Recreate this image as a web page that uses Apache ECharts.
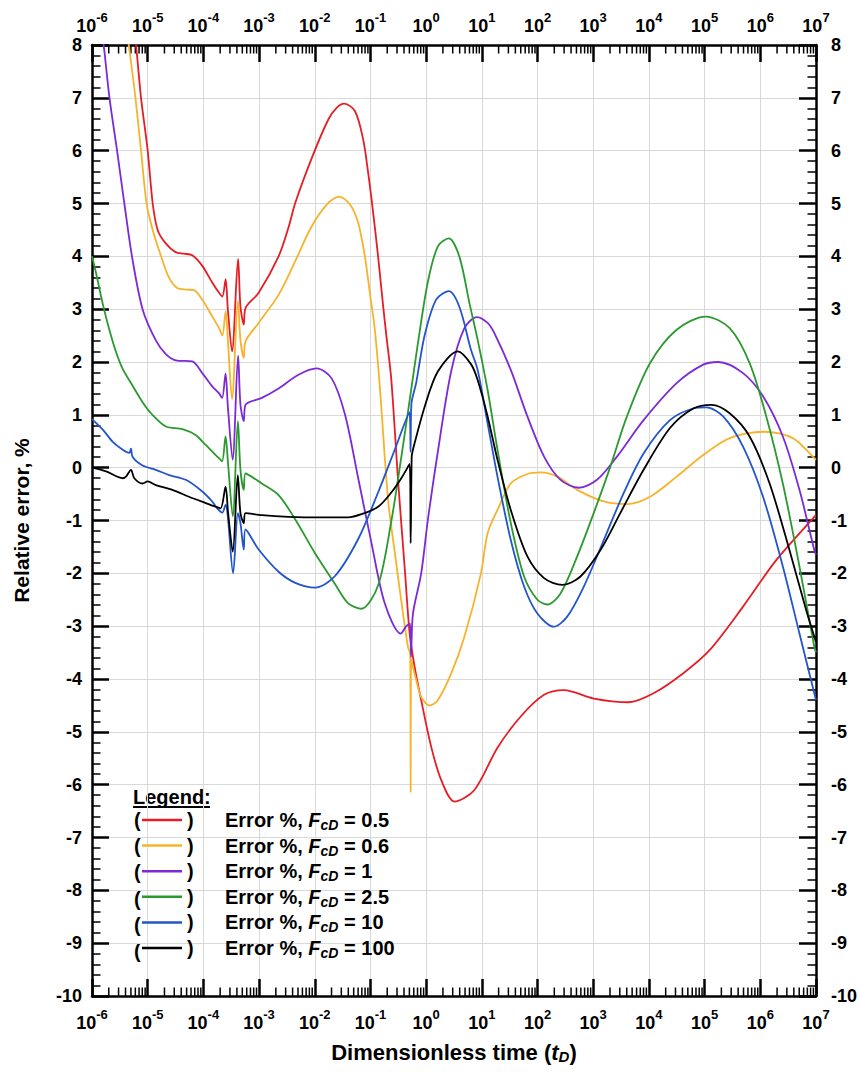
<!DOCTYPE html>
<html>
<head>
<meta charset="utf-8">
<script src="https://cdn.jsdelivr.net/npm/echarts@6/dist/echarts.min.js"></script>
<style>
  html, body { margin: 0; padding: 0; background: #fff; }
  #chart { width: 860px; height: 1072px; }
</style>
</head>
<body>
<div id="chart"></div>
<script>
// Relative error of the approximation vs dimensionless time, for several FcD values.
const FONT = "'Liberation Sans', Arial, Helvetica, sans-serif";

const fcdLabels = ['0.5', '0.6', '1', '2.5', '10', '100'];
const lineColors = ['#e41e26', '#f7b32b', '#7b2ad6', '#2a9a2f', '#2255cc', '#000000'];

// x: tD, y: error in %
const errFcd05 = [
  [4.47e-6, 9.2], [6.17e-6, 8.0], [7.59e-6, 7.0], [1.0e-5, 6.0], [1.23e-5, 5.0], [1.51e-5, 4.5],
  [2.09e-5, 4.25], [3.16e-5, 4.08], [4.47e-5, 4.05], [6.31e-5, 4.02], [9.55e-5, 3.82], [1.45e-4, 3.5],
  [1.91e-4, 3.31], [2.19e-4, 3.24], [2.51e-4, 3.57], [2.75e-4, 2.99], [3.27e-4, 2.2], [4.2e-4, 3.95],
  [4.63e-4, 3.05], [5.31e-4, 2.71], [5.7e-4, 3.02], [9.84e-4, 3.31], [2.24e-3, 4.0], [3.38e-3, 4.55],
  [4.46e-3, 5.01], [8.83e-3, 5.86], [1.75e-2, 6.59], [2.47e-2, 6.81], [3.39e-2, 6.89], [5.26e-2, 6.75],
  [7.41e-2, 6.21], [9.1e-2, 5.58], [0.112, 4.82], [0.137, 4.0], [0.169, 3.06], [0.193, 2.5],
  [0.237, 1.66], [0.313, -0.24], [0.411, -1.88], [0.506, -3.14], [0.621, -3.77], [0.815, -4.40],
  [1.23, -5.28], [1.86, -5.91], [3.22, -6.32], [7.35, -6.10], [19.1, -5.3], [49.9, -4.71],
  [131, -4.30], [298, -4.21], [1020, -4.37], [4320, -4.44], [1.21e4, -4.27], [4.15e4, -3.89],
  [1.24e5, -3.45], [4.9e5, -2.63], [1.93e6, -1.75], [9.33e6, -0.93], [1e7, -0.9]
];
const errFcd06 = [
  [3.16e-6, 9.2], [4.57e-6, 8.0], [6.03e-6, 7.0], [7.59e-6, 6.0], [9.55e-6, 5.0], [1.23e-5, 4.5],
  [1.74e-5, 4.0], [2.4e-5, 3.6], [3.39e-5, 3.4], [5.01e-5, 3.37], [6.76e-5, 3.36], [9.55e-5, 3.18],
  [1.45e-4, 2.86], [1.91e-4, 2.64], [2.19e-4, 2.5], [2.51e-4, 2.96], [2.75e-4, 2.42], [3.27e-4, 1.3],
  [4.17e-4, 3.15], [4.63e-4, 2.42], [5.31e-4, 2.08], [5.7e-4, 2.39], [9.84e-4, 2.74], [2.24e-3, 3.27],
  [4.46e-3, 3.91], [8.83e-3, 4.57], [1.75e-2, 5.01], [2.76e-2, 5.13], [4.29e-2, 4.98], [6.03e-2, 4.63],
  [7.94e-2, 4.0], [9.75e-2, 3.31], [0.12, 2.61], [0.148, 1.5], [0.207, -0.6], [0.273, -1.6],
  [0.384, -2.76], [0.472, -3.39], [0.519, -3.55], [0.527, -6.14], [0.535, -3.62], [0.664, -4.02],
  [0.815, -4.34], [1.15, -4.50], [1.62, -4.40], [2.81, -3.90], [4.86, -3.20], [9.64, -2.0],
  [12.7, -1.24], [19.1, -0.8], [33.1, -0.30], [65.8, -0.12], [114, -0.09], [226, -0.17],
  [515, -0.42], [1550, -0.64], [4030, -0.69], [1.05e4, -0.55], [3.15e4, -0.17], [9.44e4, 0.24],
  [2.82e5, 0.56], [1.19e6, 0.68], [3.84e6, 0.56], [9.33e6, 0.18], [1e7, 0.15]
];
const errFcd1 = [
  [1e-6, 9.7], [1.62e-6, 8.0], [2.06e-6, 7.0], [2.82e-6, 6.0], [3.81e-6, 5.0], [5.22e-6, 4.0],
  [8.09e-6, 3.0], [1.4e-5, 2.41], [2.12e-5, 2.15], [3.2e-5, 2.03], [6.32e-5, 2.01], [9.55e-5, 1.79],
  [1.44e-4, 1.54], [1.9e-4, 1.41], [2.17e-4, 1.32], [2.5e-4, 1.78], [2.75e-4, 1.16], [3.35e-4, 0.15],
  [4.2e-4, 2.12], [4.63e-4, 1.19], [5.31e-4, 0.88], [5.7e-4, 1.19], [1.12e-3, 1.32], [2.24e-3, 1.5],
  [5.1e-3, 1.76], [1.08e-2, 1.88], [2.01e-2, 1.69], [3.48e-2, 1.01], [6.03e-2, -0.2], [0.104, -1.42],
  [0.181, -2.57], [0.349, -3.14], [0.44, -3.0], [0.513, -2.95], [0.535, -3.58], [0.579, -2.77],
  [0.815, -2.0], [1.07, -1.0], [1.62, 0.3], [2.81, 1.82], [4.86, 2.64], [8.17, 2.85],
  [12.7, 2.74], [16.7, 2.55], [33.1, 1.85], [65.8, 0.97], [131, 0.21], [259, -0.23],
  [552, -0.38], [1170, -0.23], [2670, 0.21], [8020, 0.90], [3.15e4, 1.6], [9.44e4, 1.95],
  [1.75e5, 2.0], [4.9e5, 1.79], [1.12e6, 1.35], [2.54e6, 0.59], [5.05e6, -0.42], [9.33e6, -1.56],
  [1e7, -1.65]
];
const errFcd25 = [
  [1e-6, 4.0], [1.19e-6, 3.67], [1.56e-6, 3.1], [2.06e-6, 2.6], [2.7e-6, 2.19], [3.56e-6, 1.87],
  [5.36e-6, 1.55], [8.09e-6, 1.24], [1.15e-5, 1.03], [2.12e-5, 0.78], [4.2e-5, 0.73], [7.24e-5, 0.62],
  [1.1e-4, 0.43], [1.55e-4, 0.27], [1.9e-4, 0.18], [2.17e-4, 0.12], [2.5e-4, 0.59], [2.78e-4, 0.06],
  [3.37e-4, -0.92], [4.17e-4, 0.88], [4.63e-4, -0.04], [5.31e-4, -0.42], [5.7e-4, -0.11], [1.12e-3, -0.3],
  [2.24e-3, -0.52], [4.47e-3, -0.98], [1.01e-2, -1.62], [2.31e-2, -2.2], [3.99e-2, -2.57], [6.9e-2, -2.67],
  [0.137, -2.23], [0.237, -1.01], [0.358, 0.2], [0.506, 1.28], [0.713, 2.36], [1.07, 3.51],
  [1.62, 4.19], [2.55, 4.34], [3.96, 3.99], [6.03, 3.1], [8.41, 2.42], [12.7, 1.47],
  [19.1, 0.34], [33.1, -1.05], [57.4, -2.06], [99.3, -2.5], [150, -2.59], [259, -2.38],
  [515, -1.68], [1020, -0.86], [2030, 0.02], [4030, 0.97], [1.05e4, 1.98], [3.15e4, 2.61],
  [1.05e5, 2.86], [2.82e5, 2.64], [6.43e5, 1.98], [1.28e6, 0.97], [2.54e6, -0.3], [5.05e6, -1.87],
  [9.33e6, -3.39], [1e7, -3.5]
];
const errFcd10 = [
  [1e-6, 0.92], [1.56e-6, 0.72], [2.36e-6, 0.49], [3.56e-6, 0.34], [4.68e-6, 0.28], [5.01e-6, 0.36],
  [5.37e-6, 0.2], [8.09e-6, 0.04], [1.4e-5, -0.04], [2.43e-5, -0.14], [4.82e-5, -0.23], [9.55e-5, -0.45],
  [1.44e-4, -0.64], [1.77e-4, -0.77], [2.19e-4, -0.85], [2.51e-4, -0.7], [2.75e-4, -0.93], [3.42e-4, -2.0],
  [4.17e-4, -0.86], [4.63e-4, -1.05], [5.31e-4, -1.55], [5.7e-4, -1.17], [9.84e-4, -1.55], [2.24e-3, -1.97],
  [4.47e-3, -2.18], [1.01e-2, -2.27], [2.31e-2, -2.05], [6.03e-2, -1.35], [0.137, -0.47], [0.273, 0.34],
  [0.501, 1.05], [0.525, 0.3], [0.543, 1.2], [0.661, 1.6], [0.938, 2.5], [1.51, 3.18],
  [2.55, 3.34], [3.96, 3.04], [6.38, 2.23], [8.41, 1.85], [12.7, 0.84], [19.1, -0.17],
  [33.1, -1.37], [57.4, -2.25], [99.3, -2.76], [197, -3.01], [341, -2.82], [678, -2.25],
  [1550, -1.37], [3520, -0.48], [8020, 0.27], [2.39e4, 0.9], [6.25e4, 1.12], [1.08e5, 1.14],
  [2.15e5, 0.97], [4.9e5, 0.4], [1.12e6, -0.55], [2.54e6, -1.87], [5.05e6, -3.14], [9.33e6, -4.27],
  [1e7, -4.4]
];
const errFcd100 = [
  [1e-6, 0.0], [1.79e-6, -0.07], [3.56e-6, -0.2], [4.07e-6, -0.17], [5.01e-6, -0.04], [5.75e-6, -0.2],
  [8.09e-6, -0.3], [1e-5, -0.26], [1.4e-5, -0.33], [2.78e-5, -0.42], [5.52e-5, -0.55], [1.1e-4, -0.67],
  [1.66e-4, -0.74], [2.04e-4, -0.77], [2.5e-4, -0.36], [2.78e-4, -0.86], [3.37e-4, -1.59], [4.15e-4, -0.14],
  [4.63e-4, -0.86], [5.31e-4, -1.05], [5.7e-4, -0.86], [1.13e-3, -0.9], [3.38e-3, -0.93], [1.33e-2, -0.94],
  [3.99e-2, -0.94], [6.9e-2, -0.88], [0.137, -0.74], [0.237, -0.47], [0.358, -0.2], [0.506, 0.07],
  [0.527, -1.43], [0.55, 0.2], [0.579, 0.34], [0.938, 1.15], [1.62, 1.82], [3.69, 2.2],
  [6.38, 1.96], [8.41, 1.66], [12.7, 0.97], [19.1, 0.15], [33.1, -0.8], [65.8, -1.68],
  [131, -2.09], [278, -2.22], [590, -2.06], [1350, -1.56], [3060, -0.86], [8020, -0.04],
  [2.39e4, 0.75], [6.25e4, 1.12], [1.33e5, 1.19], [2.82e5, 1.03], [6.43e5, 0.59], [1.47e6, -0.3],
  [3.34e6, -1.56], [6.64e6, -2.69], [9.33e6, -3.2], [1e7, -3.3]
];
const errorSeries = [errFcd05, errFcd06, errFcd1, errFcd25, errFcd10, errFcd100];

// axis ranges
const X_MIN = 1e-6, X_MAX = 1e7;
const Y_MIN = -10, Y_MAX = 8;
const decadeExponents = [-6, -5, -4, -3, -2, -1, 0, 1, 2, 3, 4, 5, 6, 7];

// minor ticks of the log axis: 2..9 times each decade
const minorTickTimes = [];
for (let i = 0; i < decadeExponents.length - 1; i++) {
  for (let k = 2; k <= 9; k++) minorTickTimes.push(k * Math.pow(10, decadeExponents[i]));
}

const chart = echarts.init(document.getElementById('chart'), null, { renderer: 'svg' });

const powerLabel = v => '{b|10}{sup|' + Math.round(Math.log10(v)) + '}';
const powerRich = {
  b: { fontFamily: FONT, fontSize: 18, fontWeight: 'bold', color: '#000', lineHeight: 30 },
  sup: { fontFamily: FONT, fontSize: 13, fontWeight: 'bold', color: '#000', lineHeight: 12, verticalAlign: 'top' }
};

function xAxisDef(position, extra) {
  return Object.assign({
    type: 'log', logBase: 10, min: X_MIN, max: X_MAX, interval: 1, position: position,
    axisLine: { show: true, onZero: false, lineStyle: { color: '#000', width: 2.5 } },
    axisTick: { show: true, inside: true, length: 17, lineStyle: { color: '#000', width: 2.5 } },
    axisLabel: { show: true, interval: 0, formatter: powerLabel, rich: powerRich },
    splitLine: { show: false }
  }, extra);
}
function yAxisDef(position, extra) {
  return Object.assign({
    type: 'value', min: Y_MIN, max: Y_MAX, interval: 1, position: position,
    axisLine: { show: true, onZero: false, lineStyle: { color: '#000', width: 2.5 } },
    axisTick: { show: true, inside: true, length: 17, lineStyle: { color: '#000', width: 2.5 } },
    minorTick: { show: true, splitNumber: 5, length: 8.5, lineStyle: { color: '#000', width: 1.5 } },
    axisLabel: { fontFamily: FONT, fontSize: 18, fontWeight: 'bold', color: '#000' },
    splitLine: { show: false }
  }, extra);
}

const lineSeries = errorSeries.map((data, i) => ({
  name: fcdLabels[i],
  type: 'line',
  data: data,
  color: lineColors[i],
  showSymbol: false,
  symbol: 'none',
  smooth: 0.3,
  lineStyle: { color: lineColors[i], width: 1.8 },
  z: 5 + i
}));

const minorTickSeries = {
  type: 'custom',
  name: 'minorTicks',
  silent: true,
  clip: false,
  z: 4,
  data: minorTickTimes.map(t => [t, Y_MIN]),
  renderItem: (params, api) => {
    const t = api.value(0);
    const bottom = api.coord([t, Y_MIN]);
    const top = api.coord([t, Y_MAX]);
    const style = { stroke: '#000', lineWidth: 1.5 };
    return {
      type: 'group',
      children: [
        { type: 'line', shape: { x1: bottom[0], y1: bottom[1], x2: bottom[0], y2: bottom[1] - 8.5 }, style: style },
        { type: 'line', shape: { x1: top[0], y1: top[1], x2: top[0], y2: top[1] + 8.5 }, style: style }
      ]
    };
  }
};

const textBold = { fontFamily: FONT, fontSize: 20, fontWeight: 'bold', color: '#000', lineHeight: 24 };
const legendRowTop = 808, legendPitch = 26.2;

const parenGraphics = fcdLabels.map((n, i) => ({
  type: 'text',
  left: 134,
  top: legendRowTop + i * legendPitch,
  style: Object.assign({ text: '(' }, textBold, { verticalAlign: 'top' })
}));

const option = {
  animation: false,
  backgroundColor: '#fff',
  grid: { left: 92, right: 40, top: 45, bottom: 76, containLabel: false },
  xAxis: [
    xAxisDef('bottom', {
      axisLabel: { show: true, interval: 0, margin: 12, formatter: powerLabel, rich: powerRich },
      splitLine: { show: true, lineStyle: { color: '#d9d9d9', width: 1 } },
      name: '{b|Dimensionless time (}{i|t}{s|D}{b|)}',
      nameLocation: 'middle',
      nameGap: 44,
      nameTextStyle: {
        rich: {
          b: { fontFamily: FONT, fontSize: 22, fontWeight: 'bold', color: '#000', lineHeight: 24 },
          i: { fontFamily: FONT, fontSize: 22, fontWeight: 'bold', fontStyle: 'italic', color: '#000', lineHeight: 24 },
          s: { fontFamily: FONT, fontSize: 15, fontWeight: 'bold', fontStyle: 'italic', color: '#000', lineHeight: 10, verticalAlign: 'bottom' }
        }
      }
    }),
    xAxisDef('top', {
      axisLabel: { show: true, interval: 0, margin: 4, formatter: powerLabel, rich: powerRich }
    })
  ],
  yAxis: [
    yAxisDef('left', {
      axisLabel: { fontFamily: FONT, fontSize: 18, fontWeight: 'bold', color: '#000', margin: 10 },
      splitLine: { show: true, lineStyle: { color: '#d9d9d9', width: 1 } },
      name: 'Relative error, %',
      nameLocation: 'middle',
      nameRotate: 90,
      nameGap: 59,
      nameTextStyle: { fontFamily: FONT, fontSize: 21, fontWeight: 'bold', color: '#000', lineHeight: 24 }
    }),
    yAxisDef('right', {
      axisLabel: { fontFamily: FONT, fontSize: 18, fontWeight: 'bold', color: '#000', margin: 15 }
    })
  ],
  legend: {
    data: fcdLabels,
    orient: 'vertical',
    left: 142,
    top: 810,
    padding: 0,
    itemGap: 3.6,
    itemWidth: 40,
    itemHeight: 2.5,
    icon: 'rect',
    selectedMode: false,
    formatter: name => '{p|)}{t|Error %, }{i|F}{s|cD}{t| = ' + name + '}',
    textStyle: {
      rich: {
        p: Object.assign({}, textBold, { width: 38 }),
        t: textBold,
        i: Object.assign({}, textBold, { fontStyle: 'italic' }),
        s: { fontFamily: FONT, fontSize: 14, fontWeight: 'bold', fontStyle: 'italic', color: '#000', lineHeight: 10, verticalAlign: 'bottom' }
      }
    }
  },
  graphic: [
    { type: 'text', left: 133, top: 785, style: Object.assign({ text: 'Legend:' }, textBold) },
    { type: 'rect', left: 133, top: 806, shape: { width: 77, height: 2 }, style: { fill: '#000' } }
  ].concat(parenGraphics),
  series: lineSeries.concat([minorTickSeries])
};

chart.setOption(option);
</script>
</body>
</html>
